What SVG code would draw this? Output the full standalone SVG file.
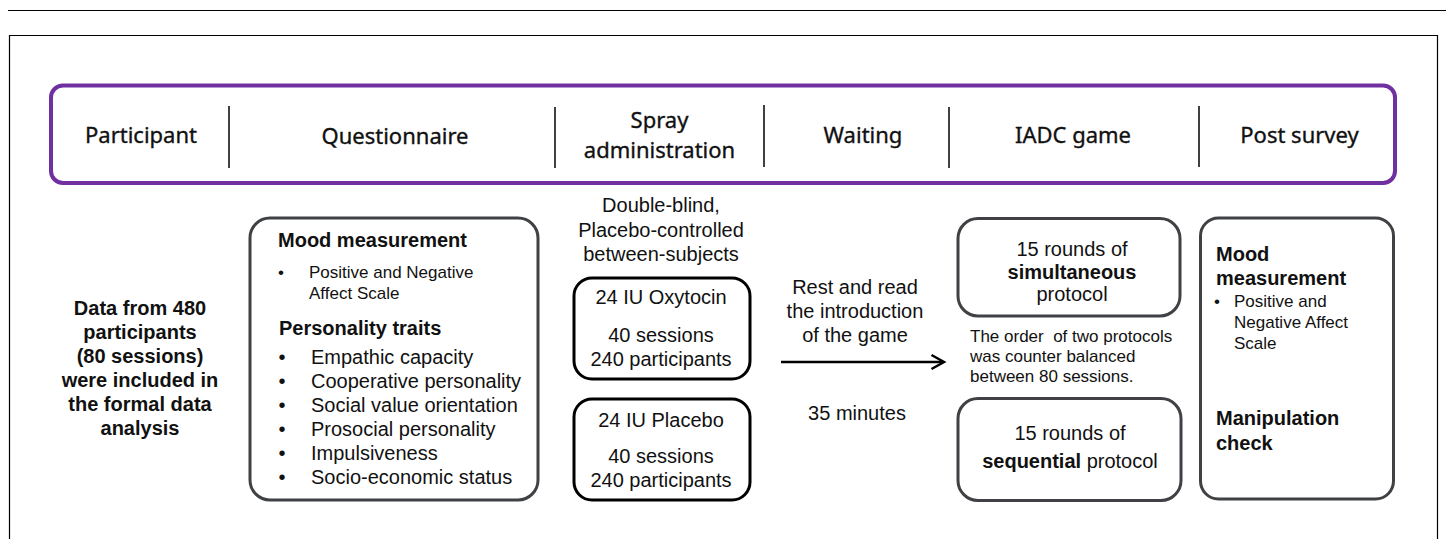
<svg xmlns="http://www.w3.org/2000/svg" width="1446" height="539" viewBox="0 0 1446 539">
<style>
.hd{font-family:"Noto Sans","Liberation Sans",sans-serif;font-size:22px;fill:#111;stroke:#111;stroke-width:0.35;text-anchor:middle}
.t{font-family:"Liberation Sans",Arial,sans-serif;font-size:20px;fill:#111}
.s{font-family:"Liberation Sans",Arial,sans-serif;font-size:17px;fill:#111}
.b{font-weight:bold}
.m{text-anchor:middle}
.gbox{fill:#fff;stroke:#3f4145;stroke-width:3}
.kbox{fill:#fff;stroke:#000;stroke-width:3}
.div{stroke:#000;stroke-width:1.5}
</style>
<rect x="0" y="0" width="1446" height="539" fill="#fff"/>
<line x1="8" y1="10.5" x2="1446" y2="10.5" stroke="#000" stroke-width="1.2"/>
<path d="M9.5 545 V35.5 H1437.5 V545" fill="none" stroke="#000" stroke-width="1.2"/>

<g id="header">
<rect x="51" y="85.5" width="1344" height="97.5" rx="12" fill="#fff" stroke="#7030A0" stroke-width="4"/>
<line class="div" x1="229" y1="106" x2="229" y2="168"/>
<line class="div" x1="555" y1="107" x2="555" y2="168"/>
<line class="div" x1="764" y1="105" x2="764" y2="167"/>
<line class="div" x1="949" y1="107" x2="949" y2="168"/>
<line class="div" x1="1199" y1="106" x2="1199" y2="167"/>
<text class="hd" x="141" y="143">Participant</text>
<text class="hd" x="395" y="144">Questionnaire</text>
<text class="hd" x="659.5" y="128">Spray</text>
<text class="hd" x="659.5" y="158">administration</text>
<text class="hd" x="863" y="143">Waiting</text>
<text class="hd" x="1073" y="143">IADC game</text>
<text class="hd" x="1299.5" y="143">Post survey</text>
</g>

<g id="participant">
<text class="t b m" x="140" y="315">Data from 480</text>
<text class="t b m" x="140" y="339">participants</text>
<text class="t b m" x="140" y="363">(80 sessions)</text>
<text class="t b m" x="140" y="387">were included in</text>
<text class="t b m" x="140" y="411">the formal data</text>
<text class="t b m" x="140" y="435">analysis</text>
</g>

<g id="questionnaire">
<rect class="gbox" x="250" y="218" width="288" height="282" rx="20"/>
<text class="t b" x="278" y="247">Mood measurement</text>
<text class="s m" x="281" y="278" font-size="14">•</text>
<text class="s" x="309" y="278">Positive and Negative</text>
<text class="s" x="309" y="299">Affect Scale</text>
<text class="t b" x="279" y="335">Personality traits</text>
<text class="t m" x="282" y="364">•</text><text class="t" x="311" y="364">Empathic capacity</text>
<text class="t m" x="282" y="388">•</text><text class="t" x="311" y="388">Cooperative personality</text>
<text class="t m" x="282" y="412">•</text><text class="t" x="311" y="412">Social value orientation</text>
<text class="t m" x="282" y="436">•</text><text class="t" x="311" y="436">Prosocial personality</text>
<text class="t m" x="282" y="460">•</text><text class="t" x="311" y="460">Impulsiveness</text>
<text class="t m" x="282" y="484">•</text><text class="t" x="311" y="484">Socio-economic status</text>
</g>

<g id="spray-label">
<text class="t m" x="661" y="212">Double-blind,</text>
<text class="t m" x="661" y="237">Placebo-controlled</text>
<text class="t m" x="661" y="261">between-subjects</text>
</g>

<g id="oxytocin">
<rect class="kbox" x="574" y="278" width="176" height="101" rx="18"/>
<text class="t m" x="661" y="304">24 IU Oxytocin</text>
<text class="t m" x="661" y="342">40 sessions</text>
<text class="t m" x="661" y="366">240 participants</text>
</g>

<g id="placebo">
<rect class="kbox" x="574" y="399" width="176" height="101" rx="18"/>
<text class="t m" x="661" y="427">24 IU Placebo</text>
<text class="t m" x="661" y="463">40 sessions</text>
<text class="t m" x="661" y="487">240 participants</text>
</g>

<g id="connectors">
<line x1="781" y1="362" x2="943" y2="362" stroke="#000" stroke-width="2.5"/>
<polyline points="931.5,355 944,362 931.5,369" fill="none" stroke="#000" stroke-width="2.5" stroke-linejoin="miter"/>
<text class="t m" x="855" y="294">Rest and read</text>
<text class="t m" x="855" y="318">the introduction</text>
<text class="t m" x="855" y="342">of the game</text>
<text class="t m" x="857" y="420">35 minutes</text>
</g>

<g id="simultaneous">
<rect class="gbox" x="958" y="218.5" width="222" height="97.5" rx="20"/>
<text class="t m" x="1072" y="256">15 rounds of</text>
<text class="t m b" x="1072" y="279">simultaneous</text>
<text class="t m" x="1072" y="301">protocol</text>
</g>

<g id="order-note">
<text class="s" x="970" y="342" xml:space="preserve">The order  of two protocols</text>
<text class="s" x="970" y="362">was counter balanced</text>
<text class="s" x="970" y="382">between 80 sessions.</text>
</g>

<g id="sequential">
<rect class="gbox" x="958" y="398.5" width="223" height="102" rx="20"/>
<text class="t m" x="1070" y="440">15 rounds of</text>
<text class="t m" x="1070" y="468"><tspan font-weight="bold">sequential</tspan> protocol</text>
</g>

<g id="post-survey">
<rect class="gbox" x="1200.5" y="218" width="193" height="281" rx="18"/>
<text class="t b" x="1216" y="261">Mood</text>
<text class="t b" x="1216" y="285">measurement</text>
<text class="s" x="1214" y="307">•</text>
<text class="s" x="1234" y="307">Positive and</text>
<text class="s" x="1234" y="328">Negative Affect</text>
<text class="s" x="1234" y="349">Scale</text>
<text class="t b" x="1216" y="425">Manipulation</text>
<text class="t b" x="1216" y="450">check</text>
</g>
</svg>
